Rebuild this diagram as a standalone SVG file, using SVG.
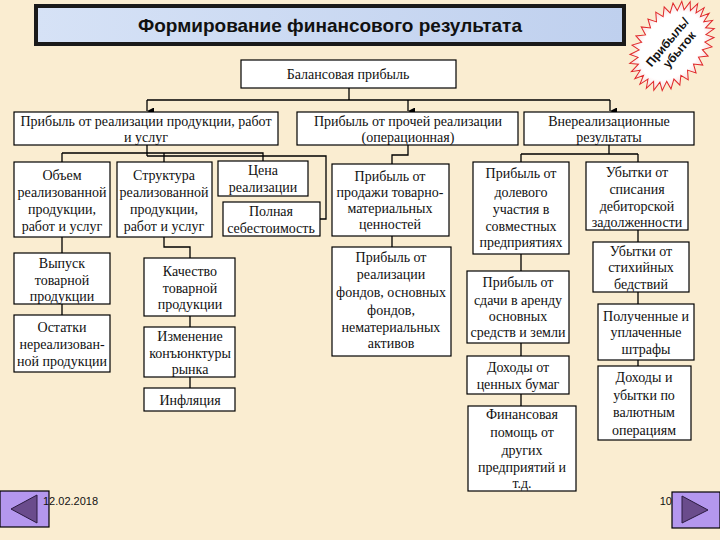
<svg xmlns="http://www.w3.org/2000/svg" width="720" height="540" viewBox="0 0 720 540">
<defs>
<linearGradient id="tg" x1="0" y1="0" x2="1" y2="0"><stop offset="0" stop-color="#D6E2F6"/><stop offset="1" stop-color="#BFD0EE"/></linearGradient>
<radialGradient id="sg"><stop offset="0.75" stop-color="#FFFFFF"/><stop offset="1" stop-color="#F7D8D8"/></radialGradient>
<marker id="ar" viewBox="0 0 8 8" refX="4" refY="8" markerWidth="7" markerHeight="8" markerUnits="userSpaceOnUse" orient="auto-start-reverse"><path d="M0,0 L8,0 L4,8 Z" fill="#000"/></marker>
<style>
.b{fill:#fff;stroke:#000;stroke-width:1.2}
.t{font-family:"Liberation Serif","Times New Roman",serif;font-size:14px;fill:#111;text-anchor:middle}
.c{fill:none;stroke:#000;stroke-width:1.3}
.nav{fill:#B497EE;stroke:#000;stroke-width:1.2}
.tri{fill:#6A4C8C;stroke:#2a1a40;stroke-width:1}
.s{font-family:"Liberation Sans",Arial,sans-serif;font-size:11px;fill:#111}
</style>
</defs>
<rect width="720" height="540" fill="#FAEDD1"/>
<g id="title">
<rect x="36" y="6" width="588" height="38" fill="url(#tg)" stroke="#1a1a1a" stroke-width="4"/>
<text x="330" y="32" font-family="Liberation Sans,Arial,sans-serif" font-size="19" font-weight="bold" text-anchor="middle" fill="#111">Формирование финансового результата</text>
</g>
<g id="badge" transform="translate(672,46) rotate(-50)">
<polygon fill="url(#sg)" stroke="#E0282A" stroke-width="1" points="50,0 40.8,2.9 48.9,7.5 39,8.7 45.7,14.6 35.5,14 40.5,21.2 30.5,18.7 33.5,26.8 24.1,22.7 25,31.2 16.7,25.6 15.5,34.2 8.5,27.4 5.2,35.8 0,28 -5.2,35.8 -8.5,27.4 -15.5,34.2 -16.7,25.6 -25,31.2 -24.1,22.7 -33.5,26.8 -30.5,18.7 -40.5,21.2 -35.5,14 -45.7,14.6 -39,8.7 -48.9,7.5 -40.8,2.9 -50,0 -40.8,-2.9 -48.9,-7.5 -39,-8.7 -45.7,-14.6 -35.5,-14 -40.5,-21.2 -30.5,-18.7 -33.5,-26.8 -24.1,-22.7 -25,-31.2 -16.7,-25.6 -15.5,-34.2 -8.5,-27.4 -5.2,-35.8 0,-28 5.2,-35.8 8.5,-27.4 15.5,-34.2 16.7,-25.6 25,-31.2 24.1,-22.7 33.5,-26.8 30.5,-18.7 40.5,-21.2 35.5,-14 45.7,-14.6 39,-8.7 48.9,-7.5 40.8,-2.9"/>
<text x="0" y="-2" font-family="Liberation Sans,Arial,sans-serif" font-size="12" font-weight="bold" text-anchor="middle" fill="#111">Прибыль/</text>
<text x="2" y="12" font-family="Liberation Sans,Arial,sans-serif" font-size="12" font-weight="bold" text-anchor="middle" fill="#111">убыток</text>
</g>
<g id="connectors">
<path class="c" d="M349 88V100M147 100H610"/>
<path class="c" d="M147 100V111" marker-end="url(#ar)"/>
<path class="c" d="M408 100V111" marker-end="url(#ar)"/>
<path class="c" d="M610 100V111" marker-end="url(#ar)"/>
<path class="c" d="M147 145V156M62 153H263V162M62 153V162M164 153V162M147 156H326V219H320"/>
<path class="c" d="M62 237V253M62 304V315"/>
<path class="c" d="M164 237V247H190V258M190 316V327M190 377V388"/>
<path class="c" d="M408 145V155H392V164M392 236V247"/>
<path class="c" d="M609 145V154M521 154H638M521 154V162M638 154V162M638 230V242M638 292V304M638 360V366"/>
<path class="c" d="M521 254V271M521 343V356M521 394V406"/>
</g>
<g id="n-balance"><rect class="b" x="241" y="60" width="215" height="28"/><text class="t" x="348" y="79">Балансовая прибыль</text></g>
<g id="n-sales"><rect class="b" x="14" y="112" width="264" height="33"/><text class="t" x="146" y="126">Прибыль от реализации продукции, работ</text><text class="t" x="146" y="142">и услуг</text></g>
<g id="n-other"><rect class="b" x="297" y="112" width="221" height="33"/><text class="t" x="408" y="126">Прибыль от прочей реализации</text><text class="t" x="408" y="142">(операционная)</text></g>
<g id="n-nonop"><rect class="b" x="524" y="112" width="170" height="33"/><text class="t" x="609" y="126">Внереализационные</text><text class="t" x="609" y="142">результаты</text></g>
<g id="n-volume"><rect class="b" x="14" y="162" width="96" height="75"/><text class="t" x="62" y="180">Объем</text><text class="t" x="62" y="197">реализованной</text><text class="t" x="62" y="214">продукции,</text><text class="t" x="62" y="231">работ и услуг</text></g>
<g id="n-structure"><rect class="b" x="117" y="162" width="95" height="75"/><text class="t" x="164" y="180">Структура</text><text class="t" x="164" y="197">реализованной</text><text class="t" x="164" y="214">продукции,</text><text class="t" x="164" y="231">работ и услуг</text></g>
<g id="n-price"><rect class="b" x="218" y="161" width="90" height="35"/><text class="t" x="263" y="175">Цена</text><text class="t" x="263" y="192">реализации</text></g>
<g id="n-cost"><rect class="b" x="223" y="202" width="97" height="34"/><text class="t" x="271" y="216">Полная</text><text class="t" x="271" y="233">себестоимость</text></g>
<g id="n-output"><rect class="b" x="14" y="253" width="96" height="51"/><text class="t" x="62" y="268">Выпуск</text><text class="t" x="62" y="285">товарной</text><text class="t" x="62" y="301">продукции</text></g>
<g id="n-rest"><rect class="b" x="14" y="315" width="96" height="57"/><text class="t" x="62" y="332">Остатки</text><text class="t" x="62" y="349">нереализован-</text><text class="t" x="62" y="366">ной продукции</text></g>
<g id="n-quality"><rect class="b" x="144" y="258" width="91" height="58"/><text class="t" x="190" y="276">Качество</text><text class="t" x="190" y="293">товарной</text><text class="t" x="190" y="309">продукции</text></g>
<g id="n-market"><rect class="b" x="144" y="327" width="91" height="50"/><text class="t" x="190" y="341">Изменение</text><text class="t" x="190" y="358">конъюнктуры</text><text class="t" x="190" y="374">рынка</text></g>
<g id="n-inflation"><rect class="b" x="144" y="388" width="91" height="23"/><text class="t" x="190" y="405">Инфляция</text></g>
<g id="n-goods"><rect class="b" x="332" y="164" width="117" height="72"/><text class="t" x="390" y="181">Прибыль от</text><text class="t" x="390" y="197">продажи товарно-</text><text class="t" x="390" y="213">материальных</text><text class="t" x="390" y="229">ценностей</text></g>
<g id="n-funds"><rect class="b" x="332" y="247" width="119" height="109"/><text class="t" x="391" y="262">Прибыль от</text><text class="t" x="391" y="279">реализации</text><text class="t" x="391" y="297">фондов, основных</text><text class="t" x="391" y="315">фондов,</text><text class="t" x="391" y="332">нематериальных</text><text class="t" x="391" y="348">активов</text></g>
<g id="n-equity"><rect class="b" x="473" y="162" width="96" height="92"/><text class="t" x="521" y="178">Прибыль от</text><text class="t" x="521" y="197">долевого</text><text class="t" x="521" y="214">участия в</text><text class="t" x="521" y="231">совместных</text><text class="t" x="521" y="247">предприятиях</text></g>
<g id="n-rent"><rect class="b" x="467" y="271" width="102" height="72"/><text class="t" x="518" y="287">Прибыль от</text><text class="t" x="518" y="305">сдачи в аренду</text><text class="t" x="518" y="321">основных</text><text class="t" x="518" y="337">средств и земли</text></g>
<g id="n-securities"><rect class="b" x="467" y="356" width="102" height="38"/><text class="t" x="518" y="372">Доходы от</text><text class="t" x="518" y="389">ценных бумаг</text></g>
<g id="n-aid"><rect class="b" x="468" y="406" width="108" height="85"/><text class="t" x="522" y="419">Финансовая</text><text class="t" x="522" y="437">помощь от</text><text class="t" x="522" y="455">других</text><text class="t" x="522" y="472">предприятий и</text><text class="t" x="522" y="488">т.д.</text></g>
<g id="n-debt"><rect class="b" x="586" y="162" width="102" height="68"/><text class="t" x="637" y="177">Убытки от</text><text class="t" x="637" y="194">списания</text><text class="t" x="637" y="211">дебиторской</text><text class="t" x="637" y="227">задолженности</text></g>
<g id="n-disaster"><rect class="b" x="593" y="242" width="96" height="50"/><text class="t" x="641" y="256">Убытки от</text><text class="t" x="641" y="272">стихийных</text><text class="t" x="641" y="289">бедствий</text></g>
<g id="n-fines"><rect class="b" x="598" y="304" width="96" height="56"/><text class="t" x="646" y="321">Полученные и</text><text class="t" x="646" y="337">уплаченные</text><text class="t" x="646" y="354">штрафы</text></g>
<g id="n-fx"><rect class="b" x="598" y="366" width="93" height="74"/><text class="t" x="644" y="382">Доходы и</text><text class="t" x="644" y="400">убытки по</text><text class="t" x="644" y="417">валютным</text><text class="t" x="644" y="435">операциям</text></g>
<g id="footer">
<rect class="nav" x="0" y="491" width="49" height="36"/>
<polygon class="tri" points="11,509 37,495 37,523"/>
<text class="s" x="43" y="505">12.02.2018</text>
<rect class="nav" x="672" y="492" width="48" height="36"/>
<polygon class="tri" points="682,496 682,523 708,510"/>
<text class="s" x="672" y="505" text-anchor="end">10</text>
</g>
</svg>
